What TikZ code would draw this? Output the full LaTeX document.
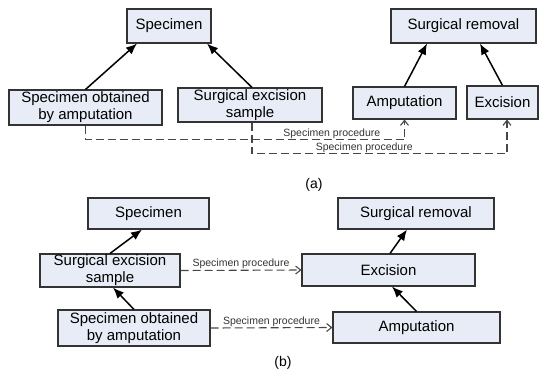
\documentclass[tikz,border=0pt]{standalone}
\usepackage{fontspec}
\setmainfont{Liberation Sans}
\usetikzlibrary{arrows.meta}
\definecolor{boxfill}{HTML}{E8ECF6}
\definecolor{boxline}{HTML}{333333}
\tikzset{
    concept/.style={
        draw=boxline,
        line width=1.1pt,
        fill=boxfill,
        align=center,
        inner sep=1pt,
        font=\fontsize{15}{17}\selectfont
    },
    isa/.style={
        draw,
        line width=1.5pt,
        -{Latex[length=11pt,width=9pt]}
    },
    proc/.style={
        draw=black!72,
        line width=1.1pt,
        dash pattern=on 8pt off 4pt,
        -{Straight Barb[length=5pt,width=8pt]}
    },
    proclabel/.style={
        font=\fontsize{10.5}{12}\selectfont,
        text=black!80,
        inner sep=0.8pt,
        anchor=south
    },
    caption/.style={
        font=\fontsize{14}{16}\selectfont
    }
}

\begin{document}
\begin{tikzpicture}[x=1pt, y=-1pt]
    \useasboundingbox (0,0) rectangle (543,372);

    % (a)
    \node[concept, minimum width=84pt, minimum height=34pt] (specA) at (169,26) {Specimen};
    \node[concept, minimum width=153pt, minimum height=35pt] (obtA) at (85.5,107.5) {Specimen obtained\\by amputation};
    \node[concept, minimum width=144pt, minimum height=34pt] (exsA) at (250,105) {Surgical excision\\sample};
    \node[concept, minimum width=145pt, minimum height=34pt] (remA) at (463.5,26) {Surgical removal};
    \node[concept, minimum width=103pt, minimum height=32pt] (ampA) at (404.5,103) {Amputation};
    \node[concept, minimum width=71pt, minimum height=33pt] (excA) at (502.5,102.5) {Excision};

    \draw[isa] (obtA.north) -- ([xshift=-32pt]specA.south);
    \draw[isa] ([xshift=2pt]exsA.north) -- ([xshift=38pt]specA.south);
    \draw[isa] (ampA.north) -- ([xshift=-36.5pt]remA.south);
    \draw[isa] (excA.north) -- ([xshift=16.5pt]remA.south);

    \draw[proc] (obtA.south) -- ++(0,14) -| node[proclabel, pos=0.386] {Specimen procedure} (ampA.south);
    \draw[proc] ([xshift=2pt]exsA.south) -- ++(0,31) -| node[proclabel, pos=0.22] {Specimen procedure} ([xshift=4.5pt]excA.south);

    \node[caption] (capA) at (314,185) {(a)};

    % (b)
    \node[concept, minimum width=121pt, minimum height=31pt] (specB) at (148.5,213.5) {Specimen};
    \node[concept, minimum width=140pt, minimum height=33pt] (exsB) at (110,270.5) {Surgical excision\\sample};
    \node[concept, minimum width=152pt, minimum height=36pt] (obtB) at (134,328) {Specimen obtained\\by amputation};
    \node[concept, minimum width=156pt, minimum height=31pt] (remB) at (416,213.5) {Surgical removal};
    \node[concept, minimum width=173pt, minimum height=32pt] (excB) at (388.5,270) {Excision};
    \node[concept, minimum width=167pt, minimum height=31pt] (ampB) at (416.5,327.5) {Amputation};

    \draw[isa] (exsB.north) -- ([xshift=-6.5pt]specB.south);
    \draw[isa] (obtB.north) -- ([xshift=3pt]exsB.south);
    \draw[isa] ([xshift=1.5pt]excB.north) -- ([xshift=-9pt]remB.south);
    \draw[isa] (ampB.north) -- ([xshift=3.5pt]excB.south);

    \draw[proc] (exsB.east) -- node[proclabel] {Specimen procedure} (excB.west);
    \draw[proc] (obtB.east) -- node[proclabel] {Specimen procedure} (ampB.west);

    \node[caption] (capB) at (283,363) {(b)};
\end{tikzpicture}
\end{document}
